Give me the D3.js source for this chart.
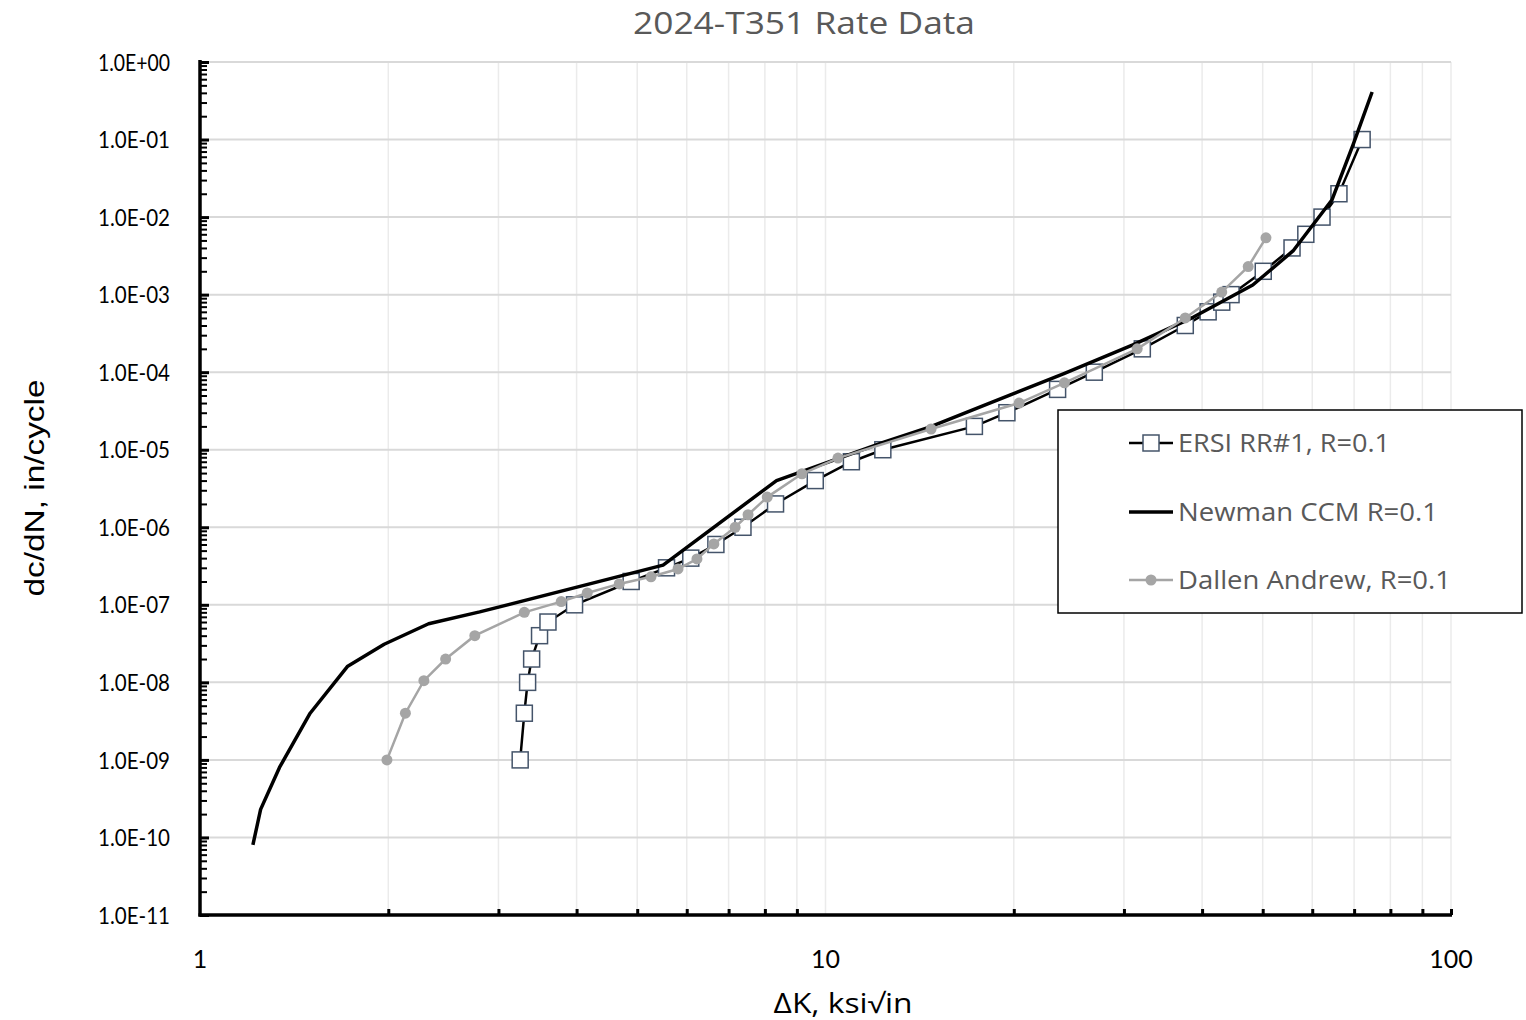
<!DOCTYPE html>
<html><head><meta charset="utf-8">
<script src="https://cdn.jsdelivr.net/npm/d3@7"></script>
<style>body{margin:0;background:#fff;} svg{display:block;}</style>
</head><body>
<script>
const ersiDK = [3.25,3.30,3.34,3.39,3.49,3.60,3.97,4.89,5.57,6.09,6.68,7.38,8.32,9.63,11.0,12.35,17.3,19.5,23.5,26.9,32.1,37.6,40.9,43.0,44.5,50.1,55.7,58.6,62.2,66.2,72.1];
const ersiRate = [1e-9,4e-9,1e-8,2e-8,4e-8,6e-8,1e-7,2e-7,3e-7,4e-7,6e-7,1e-6,2e-6,4e-6,7e-6,1e-5,2e-5,3e-5,6e-5,1e-4,2e-4,4e-4,6e-4,8e-4,1e-3,2e-3,4e-3,6e-3,1e-2,2e-2,1e-1];
const newmanDK = [1.215,1.25,1.34,1.50,1.72,1.97,2.32,2.8,5.5,8.35,12.4,14.7,18.3,24.0,31.0,38.7,48.2,55.9,64.5,69.7,74.8];
const newmanRate = [8e-11,2.3e-10,8e-10,4e-9,1.6e-8,3.1e-8,5.7e-8,8.1e-8,3.25e-7,4.0e-6,1.25e-5,1.97e-5,4.0e-5,9.5e-5,2.25e-4,5.1e-4,1.33e-3,3.66e-3,1.66e-2,8.5e-2,0.41];
const dallenDK = [1.99,2.13,2.28,2.47,2.75,3.30,3.78,4.16,4.68,5.26,5.81,6.23,6.63,7.17,7.52,8.07,9.17,10.47,14.75,20.4,24.1,31.5,37.6,43.0,47.4,50.6];
const dallenRate = [1e-9,4e-9,1.05e-8,2e-8,4e-8,8e-8,1.1e-7,1.42e-7,1.86e-7,2.3e-7,2.9e-7,3.9e-7,6.1e-7,1e-6,1.45e-6,2.45e-6,4.9e-6,7.8e-6,1.85e-5,4e-5,7.3e-5,2e-4,5e-4,1.08e-3,2.3e-3,5.4e-3];
const yTickValues = [1e0,1e-1,1e-2,1e-3,1e-4,1e-5,1e-6,1e-7,1e-8,1e-9,1e-10,1e-11];
const yTickLabels = ["1.0E+00","1.0E-01","1.0E-02","1.0E-03","1.0E-04","1.0E-05","1.0E-06","1.0E-07","1.0E-08","1.0E-09","1.0E-10","1.0E-11"];
const xTickValues = [1,10,100];
const xTickLabels = ["1","10","100"];
const seriesNames = ["ERSI RR#1, R=0.1","Newman CCM R=0.1","Dallen Andrew, R=0.1"];

const W=1526,H=1020;
const L=200,R=1451,T=62,B=915;
const tickFont = "Lato, 'Open Sans', sans-serif";
const textFont = "'Open Sans', Lato, sans-serif";
const svg=d3.select("body").append("svg").attr("width",W).attr("height",H);
const x=d3.scaleLog().domain([1,100]).range([L,R]);
const y=d3.scaleLog().domain([1e-11,1]).range([B,T]);

const xMinor=[];
for(let d=1;d<100;d*=10) for(let k=2;k<=9;k++) xMinor.push(k*d);
const yMinor=[];
for(let e=-11;e<0;e++) for(let k=2;k<=9;k++) yMinor.push(k*Math.pow(10,e));

const grid=svg.append("g");
grid.selectAll(".vg").data(xMinor.concat([10,100])).enter().append("line")
 .attr("x1",d=>x(d)).attr("x2",d=>x(d)).attr("y1",T).attr("y2",B)
 .attr("stroke","#ebebeb").attr("stroke-width",1.5);
grid.selectAll(".hg").data(yTickValues).enter().append("line")
 .attr("x1",L).attr("x2",R).attr("y1",d=>y(d)).attr("y2",d=>y(d))
 .attr("stroke","#d9d9d9").attr("stroke-width",2);

const yAxis=d3.axisRight(y).tickValues(yTickValues).tickSize(9).tickFormat("");
const gy=svg.append("g").attr("transform",`translate(${L},0)`).call(yAxis);
gy.select(".domain").remove();
gy.selectAll(".tick line").attr("stroke","#000").attr("stroke-width",3);
const yAxisMinor=d3.axisRight(y).tickValues(yMinor).tickSize(7).tickFormat("");
const gym=svg.append("g").attr("transform",`translate(${L},0)`).call(yAxisMinor);
gym.select(".domain").remove();
gym.selectAll(".tick line").attr("stroke","#000").attr("stroke-width",2);

const xAxisMinor=d3.axisTop(x).tickValues(xMinor.concat([100])).tickSize(6).tickFormat("");
const gxm=svg.append("g").attr("transform",`translate(0,${B})`).call(xAxisMinor);
gxm.select(".domain").remove();
gxm.selectAll(".tick line").attr("stroke","#000").attr("stroke-width",3);

svg.append("line").attr("x1",L).attr("x2",L).attr("y1",T-2).attr("y2",B+1.5).attr("stroke","#000").attr("stroke-width",3.5);
svg.append("line").attr("x1",L-1.5).attr("x2",R+1).attr("y1",B).attr("y2",B).attr("stroke","#000").attr("stroke-width",3.5);

svg.selectAll(".yl").data(yTickValues).enter().append("text")
 .attr("x",170).attr("y",d=>y(d)).attr("dy","0.36em").attr("text-anchor","end")
 .attr("font-family",tickFont).attr("font-size",24).attr("fill","#000")
 .attr("textLength",72).attr("lengthAdjust","spacingAndGlyphs")
 .text((d,i)=>yTickLabels[i]);
svg.selectAll(".xl").data(xTickValues).enter().append("text")
 .attr("x",d=>x(d)).attr("y",968).attr("text-anchor","middle")
 .attr("font-family",tickFont).attr("font-size",25).attr("fill","#000")
 .text((d,i)=>xTickLabels[i]);

svg.append("text").attr("x",804).attr("y",34).attr("text-anchor","middle")
 .attr("font-family",textFont).attr("font-size",31).attr("fill","#595959")
 .attr("textLength",342).attr("lengthAdjust","spacingAndGlyphs").text("2024-T351 Rate Data");
svg.append("text").attr("transform","translate(44,488) rotate(-90)").attr("text-anchor","middle")
 .attr("font-family","'Liberation Sans', Arial, sans-serif").attr("font-size",27).attr("fill","#000")
 .attr("textLength",217).attr("lengthAdjust","spacingAndGlyphs").text("dc/dN, in/cycle");
svg.append("text").attr("x",843).attr("y",1013).attr("text-anchor","middle")
 .attr("font-family",textFont).attr("font-size",27).attr("fill","#000")
 .attr("textLength",139).attr("lengthAdjust","spacingAndGlyphs").text("ΔK, ksi√in");

const line=d3.line().x(d=>x(d[0])).y(d=>y(d[1]));
const ersi=d3.zip(ersiDK,ersiRate), newman=d3.zip(newmanDK,newmanRate), dallen=d3.zip(dallenDK,dallenRate);

svg.append("path").datum(ersi).attr("d",line).attr("fill","none").attr("stroke","#000").attr("stroke-width",2.5);
svg.selectAll(".sq").data(ersi).enter().append("rect")
 .attr("x",d=>x(d[0])-8).attr("y",d=>y(d[1])-8).attr("width",16).attr("height",16)
 .attr("fill","#fff").attr("stroke","#44546a").attr("stroke-width",1.5);
svg.append("path").datum(newman).attr("d",line).attr("fill","none").attr("stroke","#000").attr("stroke-width",3.5).attr("stroke-linejoin","round");
svg.append("path").datum(dallen).attr("d",line).attr("fill","none").attr("stroke","#a5a5a5").attr("stroke-width",2.5);
svg.selectAll(".ci").data(dallen).enter().append("circle")
 .attr("cx",d=>x(d[0])).attr("cy",d=>y(d[1])).attr("r",5.5).attr("fill","#a5a5a5");

const lg=svg.append("g");
lg.append("rect").attr("x",1058).attr("y",410).attr("width",464).attr("height",203)
 .attr("fill","#fff").attr("stroke","#000").attr("stroke-width",1.5);
const ly=[443,512,580];
const lw=[212,260,273];
seriesNames.forEach((n,i)=>{
  const yy=ly[i];
  if(i===0){
    lg.append("line").attr("x1",1129).attr("x2",1173).attr("y1",yy).attr("y2",yy).attr("stroke","#000").attr("stroke-width",2.5);
    lg.append("rect").attr("x",1143).attr("y",yy-8).attr("width",16).attr("height",16).attr("fill","#fff").attr("stroke","#44546a").attr("stroke-width",1.5);
  } else if(i===1){
    lg.append("line").attr("x1",1129).attr("x2",1173).attr("y1",yy).attr("y2",yy).attr("stroke","#000").attr("stroke-width",3.5);
  } else {
    lg.append("line").attr("x1",1129).attr("x2",1173).attr("y1",yy).attr("y2",yy).attr("stroke","#a5a5a5").attr("stroke-width",2.5);
    lg.append("circle").attr("cx",1151).attr("cy",yy).attr("r",5.5).attr("fill","#a5a5a5");
  }
  lg.append("text").attr("x",1178).attr("y",yy).attr("dy","0.36em")
   .attr("font-family",textFont).attr("font-size",25).attr("fill","#595959")
   .attr("textLength",lw[i]).attr("lengthAdjust","spacingAndGlyphs").text(n);
});
</script>
</body></html>
